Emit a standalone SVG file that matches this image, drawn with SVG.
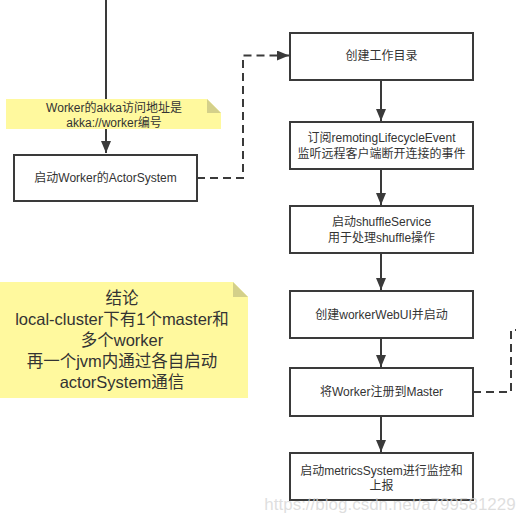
<svg xmlns="http://www.w3.org/2000/svg" width="516" height="523" viewBox="0 0 516 523">
<style>
.box{fill:#fff;stroke:#3a3a3a;stroke-width:2}
.t{font-family:"Liberation Sans","Noto Sans CJK SC",sans-serif;font-size:12px;fill:#333;text-anchor:middle;dominant-baseline:central}
.nt{font-family:"Liberation Sans","Noto Sans CJK SC",sans-serif;font-size:16.5px;fill:#333;text-anchor:middle;dominant-baseline:central}
.ln{fill:none;stroke:#3a3a3a;stroke-width:2}
.dash{fill:none;stroke:#3a3a3a;stroke-width:2;stroke-dasharray:8,5}
.note{fill:#fff99e}
.fold{fill:#d4d08a}
</style>
<defs>
<marker id="ah" markerWidth="12" markerHeight="10" refX="12" refY="5" orient="auto" markerUnits="userSpaceOnUse">
<path d="M0,0 L12,5 L0,10 Z" fill="#3a3a3a"/>
</marker>
</defs>
<g id="connectors">
<path class="ln" d="M106,0 V153" marker-end="url(#ah)"/>
<path class="dash" d="M197,178 H243 V55.5 H289" marker-end="url(#ah)"/>
<path class="ln" d="M381,80 V121" marker-end="url(#ah)"/>
<path class="ln" d="M381,169 V205" marker-end="url(#ah)"/>
<path class="ln" d="M381,253 V290" marker-end="url(#ah)"/>
<path class="ln" d="M381,338 V367" marker-end="url(#ah)"/>
<path class="ln" d="M381,416 V452" marker-end="url(#ah)"/>
<path class="dash" d="M473,392 H511 V330 H520"/>
</g>
<g id="note1">
<path class="note" d="M6,99 H207 L221,113 V129 H6 Z"/>
<path class="fold" d="M207,99 L221,113 H207 Z"/>
<text class="t" x="114" y="108">Worker的akka访问地址是</text>
<text class="t" x="114" y="123">akka://worker编号</text>
</g>
<g id="n_actor">
<rect class="box" x="14" y="155" width="183" height="46"/>
<text class="t" x="105.5" y="178">启动Worker的ActorSystem</text>
</g>
<g id="n_dir">
<rect class="box" x="290" y="33" width="183" height="47"/>
<text class="t" x="381.5" y="56">创建工作目录</text>
</g>
<g id="n_sub">
<rect class="box" x="290" y="122" width="183" height="47"/>
<text class="t" x="381.5" y="138">订阅remotingLifecycleEvent</text>
<text class="t" x="381.5" y="154">监听远程客户端断开连接的事件</text>
</g>
<g id="n_shuffle">
<rect class="box" x="290" y="206" width="183" height="47"/>
<text class="t" x="381.5" y="222">启动shuffleService</text>
<text class="t" x="381.5" y="238">用于处理shuffle操作</text>
</g>
<g id="n_webui">
<rect class="box" x="290" y="291" width="183" height="47"/>
<text class="t" x="381.5" y="315">创建workerWebUI并启动</text>
</g>
<g id="n_register">
<rect class="box" x="290" y="368" width="183" height="48"/>
<text class="t" x="381.5" y="392">将Worker注册到Master</text>
</g>
<g id="n_metrics">
<rect class="box" x="290" y="453" width="183" height="47"/>
<text class="t" x="381.5" y="471">启动metricsSystem进行监控和</text>
<text class="t" x="381.5" y="486">上报</text>
</g>
<g id="note2">
<path class="note" d="M0,282 H233 L248,297 V398 H0 Z"/>
<path class="fold" d="M233,282 L248,297 H233 Z"/>
<text class="nt" x="122" y="298">结论</text>
<text class="nt" x="122" y="319">local-cluster下有1个master和</text>
<text class="nt" x="122" y="340">多个worker</text>
<text class="nt" x="122" y="361">再一个jvm内通过各自启动</text>
<text class="nt" x="122" y="382">actorSystem通信</text>
</g>
<text x="390" y="504" font-family="Liberation Sans,sans-serif" font-size="17" fill="#d4d4d4" fill-opacity="0.75" text-anchor="middle" dominant-baseline="central">https://blog.csdn.net/a799581229</text>
</svg>
